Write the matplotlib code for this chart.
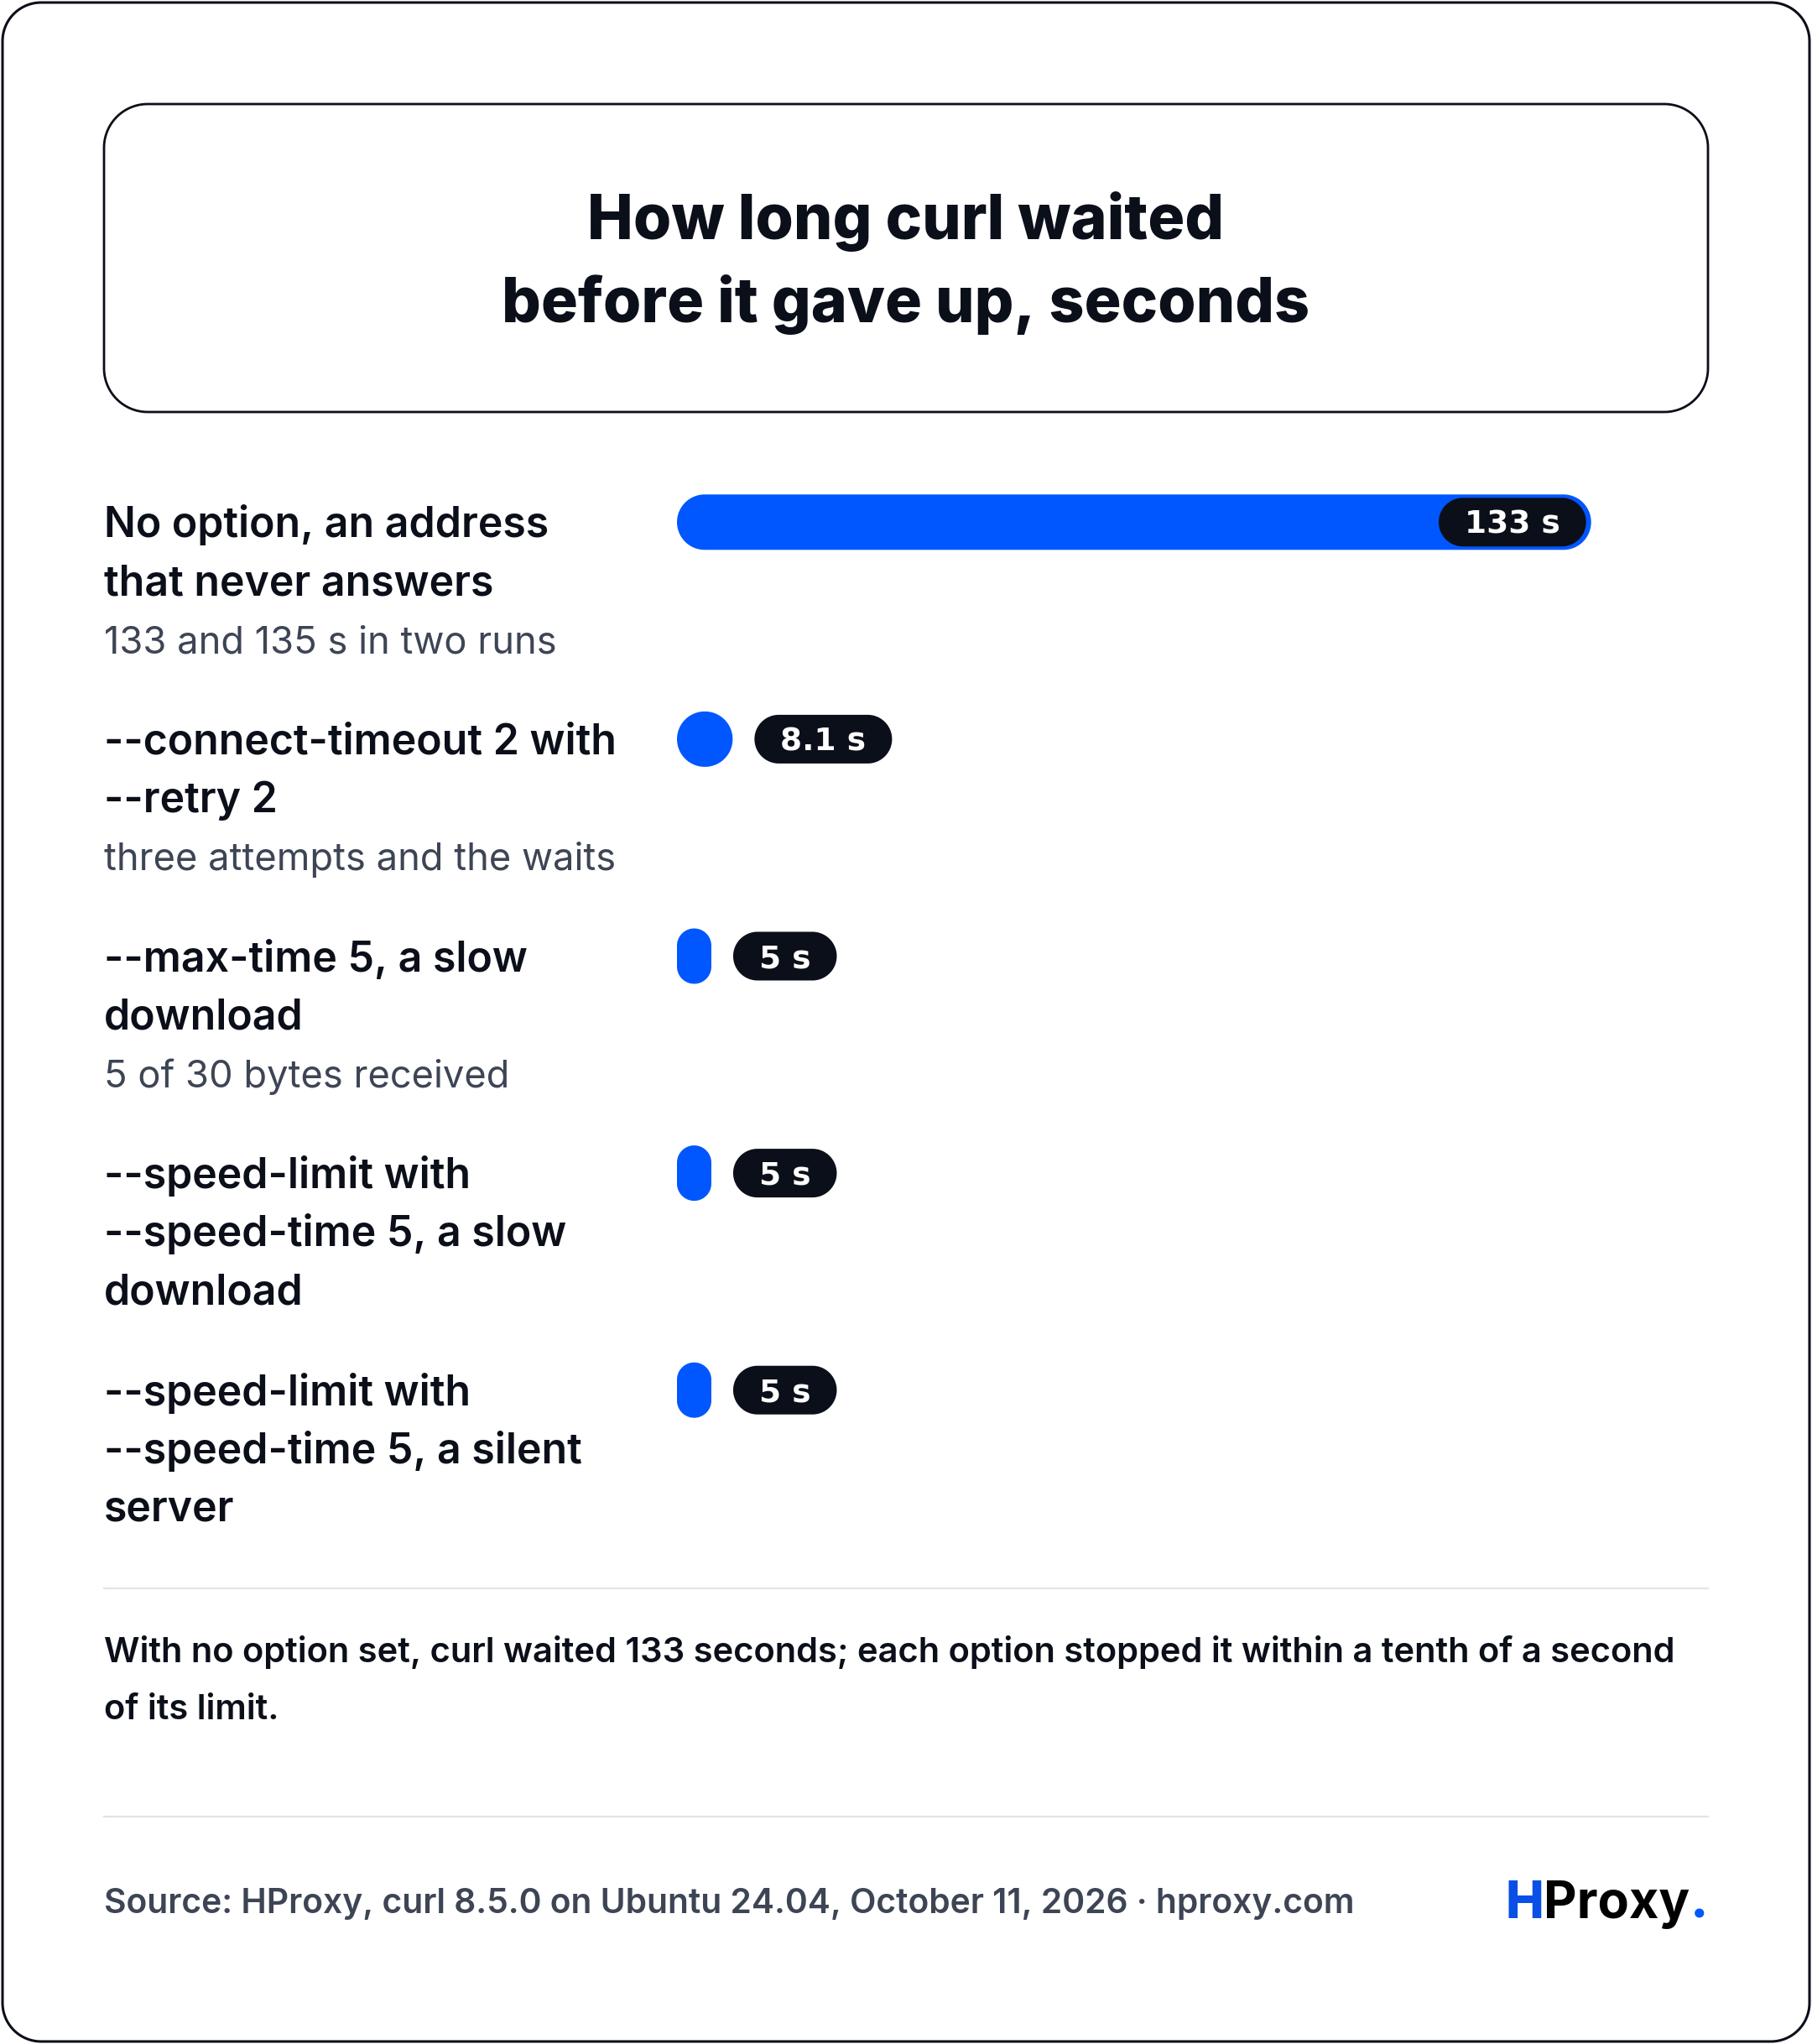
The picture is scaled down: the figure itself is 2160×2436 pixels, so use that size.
import numpy as np
import matplotlib.pyplot as plt
from matplotlib.patches import Polygon

# data
labels = [
    ["No option, an address", "that never answers"],
    ["--connect-timeout 2 with", "--retry 2"],
    ["--max-time 5, a slow", "download"],
    ["--speed-limit with", "--speed-time 5, a slow", "download"],
    ["--speed-limit with", "--speed-time 5, a silent", "server"],
]
notes = ["133 and 135 s in two runs", "three attempts and the waits",
         "5 of 30 bytes received", "", ""]
seconds = [133, 8.1, 5, 5, 5]
value_labels = ["133 s", "8.1 s", "5 s", "5 s", "5 s"]

title = ["How long curl waited", "before it gave up, seconds"]
takeaway = ["With no option set, curl waited 133 seconds; each option stopped it within a tenth of a second",
            "of its limit."]
source = "Source: HProxy, curl 8.5.0 on Ubuntu 24.04, October 11, 2026 \u00b7 hproxy.com"

W, H, DPI = 2160, 2436, 200
BLUE = '#0057ff'
INK = '#0b0f19'
GREY = '#3d4555'

plt.rcParams['font.family'] = ['Inter', 'DejaVu Sans']


def capsule(x0, y0, w, h, r=None):
    # rounded box with true circular corners, in pixel units
    r = min(w, h) / 2 if r is None else r
    t = np.linspace(0, np.pi / 2, 30)
    pts = []
    for cx, cy, a0 in [(x0 + w - r, y0 + h - r, 0), (x0 + r, y0 + h - r, np.pi / 2),
                       (x0 + r, y0 + r, np.pi), (x0 + w - r, y0 + r, 1.5 * np.pi)]:
        a = a0 + t
        pts.append(np.column_stack([cx + r * np.cos(a), cy + r * np.sin(a)]))
    return np.vstack(pts)


fig = plt.figure(figsize=(W / DPI, H / DPI), dpi=DPI)
bg = fig.add_axes([0, 0, 1, 1])
bg.set_xlim(0, W)
bg.set_ylim(H, 0)
bg.axis('off')

# card and title box
bg.add_patch(Polygon(capsule(3, 3, W - 6, H - 6, 46), closed=True, fc='white', ec=INK, lw=1.1))
bg.add_patch(Polygon(capsule(124, 124, 1912, 367, 52), closed=True, fc='none', ec=INK, lw=1.0))

# bar area: 0..150 s over the right column
n = len(seconds)
ax = fig.add_axes([807 / W, 1 - 1786 / H, (2036 - 807) / W, (1786 - 493) / H])
ax.set_xlim(0, 150)
ax.set_ylim(n - 0.5, -0.5)
ax.axis('off')

fg = fig.add_axes([0, 0, 1, 1], label='fg')
fg.set_xlim(0, W)
fg.set_ylim(H, 0)
fg.axis('off')

fg.text(1080, 285, title[0], ha='center', va='baseline', fontsize=26.4, fontweight='heavy', color=INK)
fg.text(1080, 384, title[1], ha='center', va='baseline', fontsize=26.4, fontweight='heavy', color=INK)

renderer = fig.canvas.get_renderer()
BAR_PX = 66

for i, (v, lab) in enumerate(zip(seconds, value_labels)):
    x0, ey = ax.transData.transform((0, i))
    x1, _ = ax.transData.transform((v, i))
    verts = capsule(x0, ey - BAR_PX / 2, x1 - x0, BAR_PX)
    ax.add_patch(Polygon(ax.transData.inverted().transform(verts), closed=True, fc=BLUE, ec='none'))

    # row labels
    cy = H - ey
    lines = labels[i]
    for k, line in enumerate(lines):
        fg.text(124, cy + 18 + 69 * k, line, ha='left', va='baseline',
                fontsize=18.0, fontweight='semibold', color=INK)
    if notes[i]:
        fg.text(124, cy + 18 + 69 * len(lines), notes[i], ha='left', va='baseline',
                fontsize=16.3, color=GREY)

    # value pill
    t = fg.text(0, cy + 13.5, lab, ha='center', va='baseline', fontsize=13.5,
                fontweight='bold', family='DejaVu Sans', color='white', zorder=5)
    tw = t.get_window_extent(renderer).width
    pw = tw + 62
    left = x1 - 6 - pw if i == 0 else x1 + 26
    t.set_x(left + pw / 2)
    fg.add_patch(Polygon(capsule(left, cy - 29, pw, 58), closed=True, fc=INK, ec='none', zorder=4))

# separators and footer
for y in (1893, 2165):
    fg.plot([124, 2036], [y, y], color='#e2e4e8', lw=0.8)

fg.text(124, 1981, takeaway[0], ha='left', va='baseline', fontsize=15.0,
        fontweight='semibold', color=INK)
fg.text(124, 2049, takeaway[1], ha='left', va='baseline', fontsize=15.0,
        fontweight='semibold', color=INK)
fg.text(124, 2280, source, ha='left', va='baseline', fontsize=14.7,
        fontweight='semibold', color=GREY)

# logo
dot = fg.text(2036, 2286, '.', ha='right', va='baseline', fontsize=22, fontweight='heavy', color=BLUE)
dx = dot.get_window_extent(renderer).x0
prox = fg.text(dx, 2286, 'Proxy', ha='right', va='baseline', fontsize=22, fontweight='bold', color='black')
px0 = prox.get_window_extent(renderer).x0
fg.text(px0, 2286, 'H', ha='right', va='baseline', fontsize=22, fontweight='heavy', color='#0a4fe6')

fig.savefig('out.png', dpi=DPI)
